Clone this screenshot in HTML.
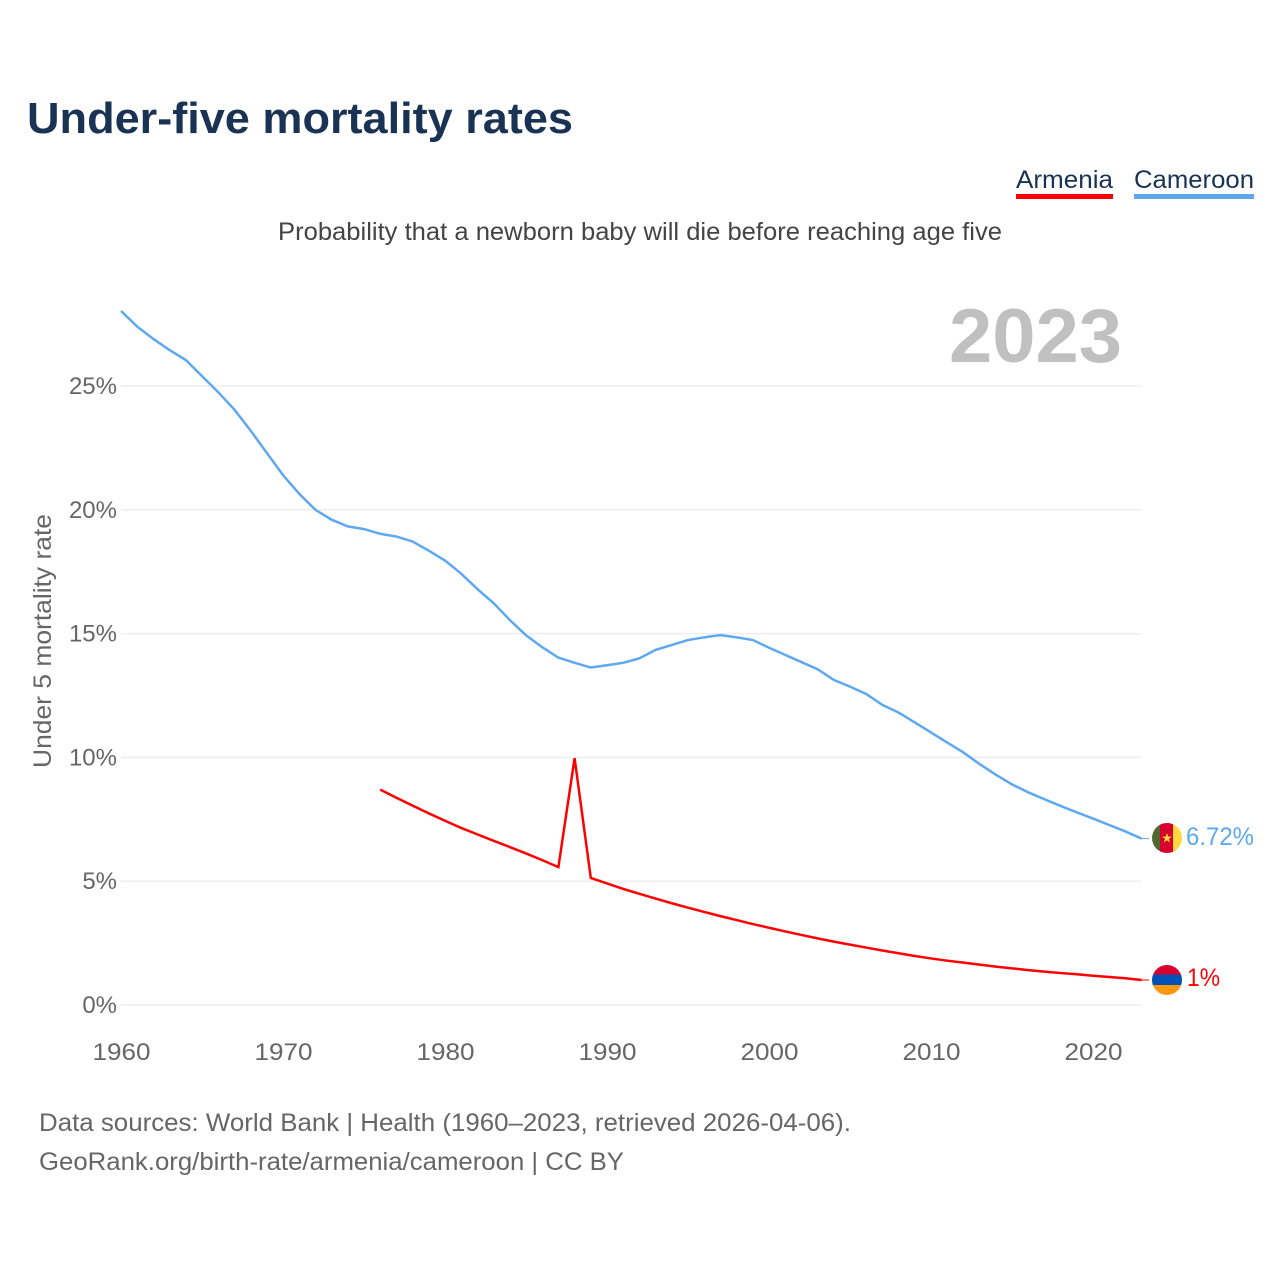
<!DOCTYPE html>
<html lang="en">
<head>
<meta charset="utf-8">
<title>Under-five mortality rates</title>
<style>
html,body{margin:0;padding:0;background:#fff;width:1280px;height:1280px;overflow:hidden}
svg{display:block;font-family:"Liberation Sans",sans-serif}
</style>
</head>
<body>
<svg id="chart" width="1280" height="1280" viewBox="0 0 1280 1280" xmlns="http://www.w3.org/2000/svg">
  <defs>
    <clipPath id="flag-clip-cm"><circle cx="1167" cy="838" r="15"/></clipPath>
    <clipPath id="flag-clip-am"><circle cx="1167" cy="980" r="15"/></clipPath>
  </defs>
  <text x="27" y="133" font-size="44" font-weight="700" fill="#1a3354" textLength="546" lengthAdjust="spacingAndGlyphs">Under-five mortality rates</text>
  <g>
    <g>
      <text x="1016" y="188" font-size="25" fill="#1a3354" textLength="97" lengthAdjust="spacingAndGlyphs">Armenia</text>
      <rect x="1016" y="194" width="97" height="5" fill="#ff0000"/>
    </g>
    <g>
      <text x="1134" y="188" font-size="25" fill="#1a3354" textLength="120" lengthAdjust="spacingAndGlyphs">Cameroon</text>
      <rect x="1134" y="194" width="120" height="5" fill="#5ea8f0"/>
    </g>
  </g>
  <text x="278" y="240" font-size="25" fill="#444" textLength="724" lengthAdjust="spacingAndGlyphs">Probability that a newborn baby will die before reaching age five</text>
  <text x="949" y="362" font-size="76" font-weight="700" fill="#c0c0c0" textLength="173" lengthAdjust="spacingAndGlyphs">2023</text>
  <text transform="translate(51,768) rotate(-90)" font-size="25" fill="#666" textLength="254" lengthAdjust="spacingAndGlyphs">Under 5 mortality rate</text>
  <g id="grid"></g>
  <g id="y-ticks"></g>
  <g id="x-ticks"></g>
  <g id="series"></g>
  <g clip-path="url(#flag-clip-cm)">
    <rect x="1152" y="823" width="10" height="30" fill="#4e6a2c"/>
    <rect x="1160" y="823" width="14" height="30" fill="#d8002c"/>
    <rect x="1173" y="823" width="9" height="30" fill="#ffd83f"/>
    <polygon points="1167,833 1168.3,836.6 1172,836.6 1169,838.9 1170.1,842.5 1167,840.3 1163.9,842.5 1165,838.9 1162,836.6 1165.7,836.6" fill="#ffd83f"/>
  </g>
  <g clip-path="url(#flag-clip-am)">
    <rect x="1152" y="965" width="30" height="10" fill="#d8002c"/>
    <rect x="1152" y="974.5" width="30" height="11" fill="#0052b4"/>
    <rect x="1152" y="985" width="30" height="10" fill="#ff9811"/>
  </g>
  <text x="1186" y="845" font-size="25" fill="#5ea8f0" textLength="68" lengthAdjust="spacingAndGlyphs">6.72%</text>
  <text x="1187" y="986" font-size="25" fill="#ff0000" textLength="33" lengthAdjust="spacingAndGlyphs">1%</text>
  <text x="39" y="1131" font-size="25" fill="#666" textLength="812" lengthAdjust="spacingAndGlyphs">Data sources: World Bank | Health (1960–2023, retrieved 2026-04-06).</text>
  <text x="39" y="1170" font-size="25" fill="#666" textLength="585" lengthAdjust="spacingAndGlyphs">GeoRank.org/birth-rate/armenia/cameroon | CC BY</text>
</svg>
<script>
const yTickValues = [0, 5, 10, 15, 20, 25];
const xTickYears = [1960, 1970, 1980, 1990, 2000, 2010, 2020];
const cameroonStartYear = 1960;
const cameroonValues = [28.03,27.4,26.9,26.45,26.05,25.4,24.75,24.05,23.2,22.3,21.4,20.65,20.0,19.6,19.33,19.22,19.03,18.92,18.72,18.35,17.95,17.42,16.8,16.23,15.55,14.93,14.45,14.03,13.82,13.63,13.72,13.82,14.0,14.34,14.54,14.74,14.85,14.94,14.85,14.74,14.43,14.14,13.85,13.56,13.13,12.86,12.56,12.12,11.81,11.41,11.01,10.6,10.2,9.73,9.3,8.91,8.59,8.31,8.04,7.78,7.53,7.27,7.01,6.72];
const armeniaStartYear = 1976;
const armeniaValues = [8.7,8.37,8.05,7.74,7.44,7.15,6.89,6.63,6.38,6.12,5.85,5.57,9.97,5.13,4.91,4.69,4.49,4.3,4.11,3.93,3.76,3.59,3.43,3.27,3.12,2.97,2.83,2.69,2.56,2.44,2.32,2.2,2.09,1.98,1.88,1.79,1.71,1.63,1.55,1.48,1.41,1.35,1.29,1.24,1.18,1.13,1.08,1.01];

const NS = 'http://www.w3.org/2000/svg';
function xScale(year) { return 121 + (year - 1960) * 16.2; }
function yScale(v) { return 1005 - v * 24.76; }

const grid = document.getElementById('grid');
const yTicks = document.getElementById('y-ticks');
yTickValues.forEach(function (v) {
  const line = document.createElementNS(NS, 'line');
  
  
  line.setAttribute('x1', xScale(1960));
  line.setAttribute('x2', xScale(2023));
  line.setAttribute('y1', yScale(v));
  line.setAttribute('y2', yScale(v));
  line.setAttribute('stroke', '#eeeeee');
  line.setAttribute('stroke-width', '1.5');
  grid.appendChild(line);
  const label = document.createElementNS(NS, 'text');
  
  
  label.setAttribute('x', 117);
  label.setAttribute('y', yScale(v) + 8);
  label.setAttribute('text-anchor', 'end');
  label.setAttribute('font-size', '24');
  label.setAttribute('fill', '#666');
  label.textContent = v + '%';
  yTicks.appendChild(label);
});

const xTicks = document.getElementById('x-ticks');
xTickYears.forEach(function (year) {
  const label = document.createElementNS(NS, 'text');
  
  
  label.setAttribute('x', xScale(year) + 0.5);
  label.setAttribute('y', 1060);
  label.setAttribute('text-anchor', 'middle');
  label.setAttribute('font-size', '24');
  label.setAttribute('fill', '#666');
  label.setAttribute('textLength', '58');
  label.setAttribute('lengthAdjust', 'spacingAndGlyphs');
  label.textContent = year;
  xTicks.appendChild(label);
});

const seriesGroup = document.getElementById('series');
function points(values, startYear) {
  return values.map(function (v, i) {
    return xScale(startYear + i).toFixed(2) + ',' + yScale(v).toFixed(2);
  }).join(' ');
}
const cameroonLine = document.createElementNS(NS, 'polyline');


cameroonLine.setAttribute('points', points(cameroonValues, cameroonStartYear));
cameroonLine.setAttribute('fill', 'none');
cameroonLine.setAttribute('stroke', '#5ea8f0');
cameroonLine.setAttribute('stroke-width', '2.5');
seriesGroup.appendChild(cameroonLine);
const armeniaLine = document.createElementNS(NS, 'polyline');


armeniaLine.setAttribute('points', points(armeniaValues, armeniaStartYear));
armeniaLine.setAttribute('fill', 'none');
armeniaLine.setAttribute('stroke', '#ff0000');
armeniaLine.setAttribute('stroke-width', '2.5');
seriesGroup.appendChild(armeniaLine);
const cameroonLast = cameroonValues[cameroonValues.length - 1];
const armeniaLast = armeniaValues[armeniaValues.length - 1];
const cameroonConnector = document.createElementNS(NS, 'line');


cameroonConnector.setAttribute('x1', xScale(2023));
cameroonConnector.setAttribute('x2', 1149);
cameroonConnector.setAttribute('y1', yScale(cameroonLast));
cameroonConnector.setAttribute('y2', yScale(cameroonLast));
cameroonConnector.setAttribute('stroke', '#5ea8f0');
cameroonConnector.setAttribute('stroke-width', '1');
seriesGroup.appendChild(cameroonConnector);
const armeniaConnector = document.createElementNS(NS, 'line');


armeniaConnector.setAttribute('x1', xScale(2023));
armeniaConnector.setAttribute('x2', 1149);
armeniaConnector.setAttribute('y1', yScale(armeniaLast));
armeniaConnector.setAttribute('y2', yScale(armeniaLast));
armeniaConnector.setAttribute('stroke', '#ff0000');
armeniaConnector.setAttribute('stroke-width', '1');
seriesGroup.appendChild(armeniaConnector);
</script>
</body>
</html>
